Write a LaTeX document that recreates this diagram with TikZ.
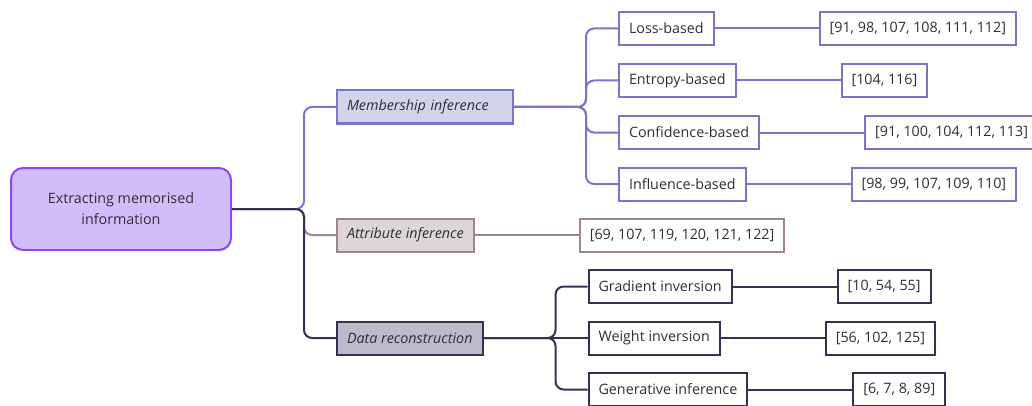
\documentclass[tikz,border=0pt]{standalone}
\usepackage{fontspec}
\setmainfont{Open Sans}
\usepackage{tikz}
\usetikzlibrary{positioning}

\definecolor{ink}{RGB}{48,48,52}
\definecolor{rootfill}{RGB}{209,189,250}
\definecolor{rootline}{RGB}{140,72,236}
\definecolor{memfill}{RGB}{211,211,236}
\definecolor{memline}{RGB}{118,120,198}
\definecolor{attfill}{RGB}{221,213,215}
\definecolor{attline}{RGB}{158,135,138}
\definecolor{recfill}{RGB}{188,187,204}
\definecolor{recline}{RGB}{52,49,84}

\begin{document}
\begin{tikzpicture}[
    x=1pt, y=1pt,
    node distance=104pt,
    every node/.style={text=ink, font=\fontsize{14.3}{21}\selectfont},
    box/.style={draw, line width=2pt, minimum height=33pt, inner xsep=10pt, inner ysep=0pt},
    rootbox/.style={box, fill=rootfill, draw=rootline, rounded corners=12pt, align=center, minimum width=220pt, minimum height=82pt},
    cat/.style={box, font=\fontsize{14.3}{21}\selectfont\itshape},
    memcat/.style={cat, fill=memfill, draw=memline},
    attcat/.style={cat, fill=attfill, draw=attline},
    reccat/.style={cat, fill=recfill, draw=recline},
    memleaf/.style={box, fill=white, draw=memline},
    attleaf/.style={box, fill=white, draw=attline},
    recleaf/.style={box, fill=white, draw=recline},
    link/.style={line width=2pt, rounded corners=8pt}
]
\useasboundingbox (0,0) rectangle (1032,405);

\node[rootbox] (root) at (121,196) {Extracting memorised\\information};

% categories
\node[memcat, text width=156pt, align=left, right=of root, yshift=102pt] (member) {Membership inference};
\node[attcat, right=of root, yshift=-26pt] (attrib) {Attribute inference};
\node[reccat, right=of root, yshift=-129pt] (recon) {Data reconstruction};

% membership inference
\node[memleaf, right=of member, yshift=78.5pt] (loss) {Loss-based};
\node[memleaf, right=of member, yshift=26.5pt] (entropy) {Entropy-based};
\node[memleaf, right=of member, yshift=-25.5pt] (confid) {Confidence-based};
\node[memleaf, right=of member, yshift=-77pt] (influence) {Influence-based};
\node[memleaf, right=of loss] (lossref) {[91, 98, 107, 108, 111, 112]};
\node[memleaf, right=of entropy] (entropyref) {[104, 116]};
\node[memleaf, right=of confid] (confidref) {[91, 100, 104, 112, 113]};
\node[memleaf, right=of influence] (influenceref) {[98, 99, 107, 109, 110]};

% attribute inference
\node[attleaf, right=of attrib] (attribref) {[69, 107, 119, 120, 121, 122]};

% data reconstruction
\node[recleaf, right=of recon, yshift=51.5pt] (gradinv) {Gradient inversion};
\node[recleaf, right=of recon] (weightinv) {Weight inversion};
\node[recleaf, right=of recon, yshift=-51.5pt] (geninf) {Generative inference};
\node[recleaf, right=of gradinv] (gradref) {[10, 54, 55]};
\node[recleaf, right=of weightinv] (weightref) {[56, 102, 125]};
\node[recleaf, right=of geninf] (genref) {[6, 7, 8, 89]};

\draw[link, memline] (root.east) -- ++(72pt,0) |- (member.west);
\draw[link, attline] (root.east) -- ++(72pt,0) |- (attrib.west);
\draw[link, recline] (root.east) -- ++(72pt,0) |- (recon.west);

\draw[link, memline] (member.east) -- ++(72pt,0) |- (loss.west);
\draw[link, memline] (member.east) -- ++(72pt,0) |- (entropy.west);
\draw[link, memline] (member.east) -- ++(72pt,0) |- (confid.west);
\draw[link, memline] (member.east) -- ++(72pt,0) |- (influence.west);
\draw[link, memline] (loss) -- (lossref);
\draw[link, memline] (entropy) -- (entropyref);
\draw[link, memline] (confid) -- (confidref);
\draw[link, memline] (influence) -- (influenceref);

\draw[link, attline] (attrib) -- (attribref);

\draw[link, recline] (recon.east) -- ++(72pt,0) |- (gradinv.west);
\draw[link, recline] (recon.east) -- (weightinv.west);
\draw[link, recline] (recon.east) -- ++(72pt,0) |- (geninf.west);
\draw[link, recline] (gradinv) -- (gradref);
\draw[link, recline] (weightinv) -- (weightref);
\draw[link, recline] (geninf) -- (genref);
\end{tikzpicture}
\end{document}
